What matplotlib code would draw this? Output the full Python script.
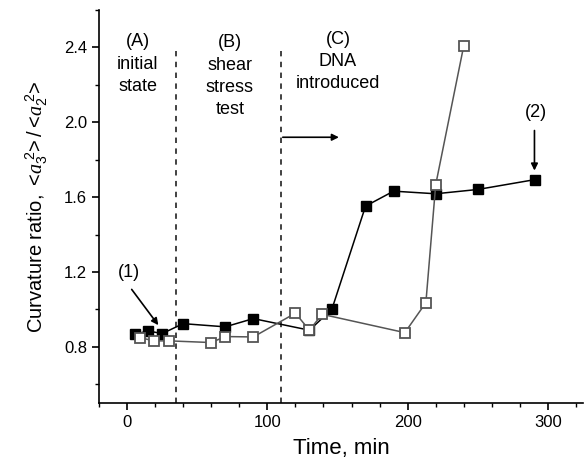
import matplotlib
matplotlib.use('Agg')
import matplotlib.pyplot as plt
from matplotlib.ticker import MultipleLocator

plt.rcParams['font.family'] = ['Liberation Sans', 'DejaVu Sans']
plt.rcParams['mathtext.fontset'] = 'custom'
plt.rcParams['mathtext.it'] = 'Liberation Serif:italic'
plt.rcParams['mathtext.rm'] = 'Liberation Sans'

# filled squares (black series)
t_filled = [6, 15, 25, 40, 70, 90, 130, 146, 170, 190, 220, 250, 291]
r_filled = [0.868, 0.885, 0.871, 0.924, 0.907, 0.951, 0.889, 1.001, 1.552, 1.632, 1.618, 1.641, 1.694]

# open squares (grey series)
t_open = [9, 19, 30, 60, 70, 90, 120, 130, 139, 198, 213, 220, 240]
r_open = [0.850, 0.832, 0.832, 0.823, 0.855, 0.853, 0.980, 0.889, 0.974, 0.876, 1.036, 1.666, 2.409]

# stage boundaries (min)
stage_lines = [35, 110]

fig = plt.figure(figsize=(5.86, 4.74), dpi=100)
ax = fig.add_axes([99/586, 1-403/474, 484/586, 393/474])

ax.plot(t_filled, r_filled, '-', color='black', lw=1.1, marker='s', ms=7.5,
        mfc='black', mec='black', zorder=3)
ax.plot(t_open, r_open, '-', color='#555555', lw=1.1, marker='s', ms=7.5,
        mfc='white', mec='#555555', mew=1.3, zorder=4)

for xv in stage_lines:
    ax.plot([xv, xv], [0.5, 2.38], ls=(0, (3, 3)), color='#333333', lw=1.3, zorder=2)

tkw = dict(ha='center', va='top', fontsize=13, linespacing=1.4)
ax.text(7.6, 2.475, '(A)\ninitial\nstate', **tkw)
ax.text(73.3, 2.47, '(B)\nshear\nstress\ntest', **tkw)
ax.text(150.4, 2.49, '(C)\nDNA\nintroduced', **tkw)

akw = dict(arrowstyle='-|>', color='black', lw=1.2, mutation_scale=10,
           shrinkA=0, shrinkB=0)
ax.annotate('', xy=(151, 1.92), xytext=(111, 1.92), arrowprops=akw)
ax.text(1, 1.2, '(1)', ha='center', va='center', fontsize=13)
ax.annotate('', xy=(22.3, 0.916), xytext=(3.3, 1.107), arrowprops=akw)
ax.text(291.5, 2.053, '(2)', ha='center', va='center', fontsize=13)
ax.annotate('', xy=(290.4, 1.742), xytext=(290.4, 1.956), arrowprops=akw)

ax.set_xlim(-20, 325)
ax.set_ylim(0.5, 2.6)
ax.xaxis.set_major_locator(MultipleLocator(100))
ax.xaxis.set_minor_locator(MultipleLocator(20))
ax.yaxis.set_minor_locator(MultipleLocator(0.2))
ax.set_yticks([0.8, 1.2, 1.6, 2.0, 2.4])
ax.spines['top'].set_visible(False)
ax.spines['right'].set_visible(False)
for s in ('left', 'bottom'):
    ax.spines[s].set_linewidth(1.2)
ax.tick_params(which='major', length=5, width=1.2, labelsize=12)
ax.tick_params(which='minor', length=3, width=1.0)

ax.set_xlabel('Time, min', fontsize=16, labelpad=6)
ax.set_ylabel(r'Curvature ratio, $<\!a_3^{\;2}\!>/<\!a_2^{\;2}\!>$', fontsize=14.5, labelpad=10)

fig.savefig('out.png', dpi=100)
